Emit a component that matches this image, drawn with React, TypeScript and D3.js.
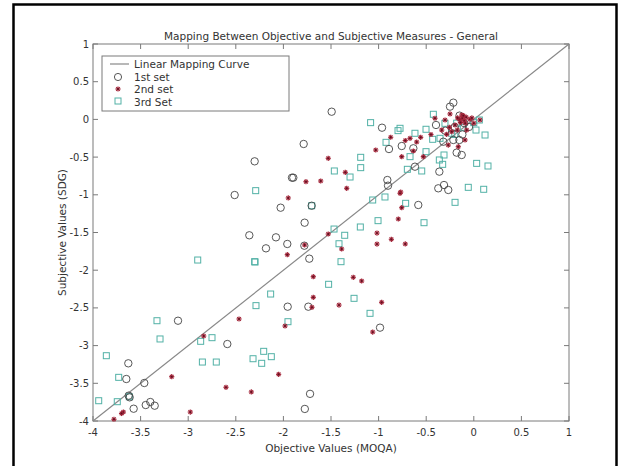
import * as d3 from "d3";

// 1st set (circles)
const set1: [number, number][] = [
  [-2.358, -1.537], [-2.078, -1.564], [-2.183, -1.71], [-1.959, -1.652], [-1.955, -2.484],
  [-3.107, -2.67], [-2.589, -2.979], [-3.629, -3.235], [-3.65, -3.443], [-3.625, -3.664],
  [-3.615, -3.686], [-3.461, -3.496], [-3.573, -3.837], [-3.446, -3.788], [-3.398, -3.748],
  [-3.352, -3.797], [-1.775, -3.84], [-1.72, -3.64], [-1.493, 0.102], [-0.964, -0.11],
  [-0.891, -0.393], [-1.787, -0.326], [-2.302, -0.556], [-2.512, -1.003], [-1.896, -0.773],
  [-1.91, -0.773], [-2.029, -1.171], [-1.703, -1.145], [-1.777, -1.37], [-1.78, -1.675],
  [-1.728, -1.847], [-0.908, -0.804], [-0.901, -0.879], [-0.373, -0.914], [-0.313, -0.87],
  [-0.268, -0.936], [-0.583, -1.135], [-1.738, -2.484], [-0.985, -2.762], [-0.215, 0.222],
  [-0.25, 0.169], [-0.397, -0.074], [-0.215, -0.273], [-0.32, -0.296], [-0.152, -0.273],
  [-0.127, -0.472], [-0.18, -0.441], [-0.362, -0.693], [-0.635, -0.383], [-0.757, -0.353],
  [-0.618, -0.627], [-0.1, -0.05], [-0.2, -0.1], [-0.15, 0.05], [-0.05, -0.1],
  [-0.3, -0.15], [-0.12, -0.2],
];

// 2nd set (asterisks)
const set2: [number, number][] = [
  [-1.959, -1.794], [-2.466, -2.647], [-2.837, -2.873], [-1.983, -2.74], [-3.173, -3.412],
  [-2.603, -3.553], [-2.337, -3.615], [-2.05, -3.381], [-2.978, -3.881], [-3.681, -3.881],
  [-3.7, -3.9], [-3.78, -3.977], [-0.873, -0.237], [-1.03, -0.406], [-1.529, -0.516],
  [-1.35, -0.702], [-1.763, -0.826], [-1.608, -0.817], [-1.335, -0.914], [-1.949, -1.042],
  [-1.529, -1.52], [-1.388, -1.719], [-1.777, -1.666], [-1.017, -1.507], [-1.017, -1.653],
  [-0.866, -1.59], [-0.793, -1.321], [-1.686, -2.086], [-1.266, -2.094], [-0.768, -0.963],
  [-0.757, -1.171], [-0.72, -1.652], [-1.178, -2.143], [-1.686, -2.36], [-1.7, -2.492],
  [-1.416, -2.462], [-0.968, -2.426], [-1.062, -2.82], [-0.775, -0.98], [-0.25, 0.072],
  [-0.302, -0.008], [-0.408, 0.015], [-0.337, -0.141], [-0.257, -0.105], [-0.268, -0.34],
  [-0.232, -0.163], [-0.075, -0.141], [-0.092, -0.273], [0.065, -0.008], [-0.67, -0.251],
  [-0.558, -0.238], [-0.53, -0.494], [-0.635, -0.419], [-0.173, -0.141], [-0.163, -0.362],
  [-0.757, -0.494], [-0.197, -0.074], [-0.285, -0.198], [-0.04, 0.001], [-0.127, 0.058],
  [-0.15, 0.0], [-0.12, 0.02], [-0.1, -0.02], [-0.14, -0.04], [-0.08, 0.03],
  [-0.11, 0.05], [-0.17, 0.02], [-0.09, -0.05], [0.0, -0.05], [-0.02, 0.02],
  [-0.6, -0.3], [-0.72, -0.28], [-0.45, -0.2],
];

// 3rd set (squares)
const set3: [number, number][] = [
  [-2.9, -1.865], [-2.298, -1.891], [-2.134, -2.316], [-2.288, -2.47], [-1.952, -2.683],
  [-3.328, -2.67], [-3.296, -2.912], [-2.869, -2.943], [-2.75, -2.895], [-2.851, -3.218],
  [-2.705, -3.218], [-2.319, -3.174], [-2.207, -3.076], [-2.127, -3.147], [-2.228, -3.235],
  [-3.86, -3.134], [-3.73, -3.421], [-3.745, -3.744], [-3.94, -3.731], [-3.619, -3.678],
  [-1.084, -0.043], [-0.922, -0.304], [-0.796, -0.149], [-1.188, -0.503], [-1.188, -0.64],
  [-1.465, -0.684], [-1.3, -0.764], [-2.291, -0.945], [-1.703, -1.145], [-1.062, -1.069],
  [-0.933, -1.029], [-1.468, -1.454], [-1.356, -1.537], [-1.192, -1.427], [-1.006, -1.343],
  [-1.416, -1.649], [-1.395, -1.887], [-2.302, -1.887], [-0.058, -0.901], [-0.197, -1.1],
  [-0.523, -1.37], [-0.716, -1.113], [-1.525, -2.187], [-1.258, -2.373], [-1.09, -2.572],
  [-0.425, 0.068], [-0.775, -0.118], [-0.618, -0.184], [-0.502, -0.131], [-0.67, -0.494],
  [-0.698, -0.662], [-0.547, -0.684], [-0.432, -0.264], [-0.362, -0.538], [-0.313, -0.472],
  [-0.327, -0.596], [0.03, -0.583], [0.149, -0.618], [0.104, -0.927], [0.0, -0.043],
  [0.058, -0.008], [0.118, -0.207], [0.023, -0.141], [-0.355, -0.251], [-0.303, -0.052],
  [-0.232, -0.184], [-0.502, -0.428], [-0.11, -0.105], [-0.18, -0.05], [-0.2, -0.2],
];

const mappingLine: [number, number][] = [[-4, -4], [1, 1]];
const xTicks = [-4, -3.5, -3, -2.5, -2, -1.5, -1, -0.5, 0, 0.5, 1];
const yTicks = [-4, -3.5, -3, -2.5, -2, -1.5, -1, -0.5, 0, 0.5, 1];
const legendLabels = ["Linear Mapping Curve", "1st set", "2nd set", "3rd Set"];

const W = 629;
const H = 466;
const m = { left: 93, right: 569, top: 44, bottom: 421 };
const font = "'DejaVu Sans', sans-serif";
const axisColor = "#7a7a7a";
const textColor = "#333";
const c1 = "#444";
const c2 = "#a3263a";
const c3 = "#52b1a6";

const x = d3.scaleLinear().domain([-4, 1]).range([m.left, m.right]);
const y = d3.scaleLinear().domain([-4, 1]).range([m.bottom, m.top]);

function Star({ cx, cy, r = 2.6 }: { cx: number; cy: number; r?: number }) {
  const d = r * 0.707;
  return (
    <g stroke={c2} strokeWidth={1.2}>
      <line x1={cx - r} y1={cy} x2={cx + r} y2={cy} />
      <line x1={cx} y1={cy - r} x2={cx} y2={cy + r} />
      <line x1={cx - d} y1={cy - d} x2={cx + d} y2={cy + d} />
      <line x1={cx - d} y1={cy + d} x2={cx + d} y2={cy - d} />
      <circle cx={cx} cy={cy} r={0.9} fill="#5a1020" stroke="none" />
    </g>
  );
}

export default function App() {
  const line = d3.line<[number, number]>().x((d) => x(d[0])).y((d) => y(d[1]));
  const tl = 5;
  const lx = 102;
  const ly = 56;
  return (
    <div style={{ position: "absolute", left: 0, top: 0 }}>
      <svg width={W} height={H} style={{ display: "block", background: "#fff" }} fontFamily={font}>
        <rect x={13.5} y={4.5} width={603} height={H + 10} fill="none" stroke="#000" strokeWidth={2.5} />
        {/* ticks, both sides like matlab's box */}
        {xTicks.map((t) => (
          <g key={"x" + t}>
            <line x1={x(t)} x2={x(t)} y1={m.bottom} y2={m.bottom - tl} stroke={axisColor} />
            <line x1={x(t)} x2={x(t)} y1={m.top} y2={m.top + tl} stroke={axisColor} />
            <text x={x(t)} y={m.bottom + 15} textAnchor="middle" fontSize={10} fill={textColor}>
              {t}
            </text>
          </g>
        ))}
        {yTicks.map((t) => (
          <g key={"y" + t}>
            <line x1={m.left} x2={m.left + tl} y1={y(t)} y2={y(t)} stroke={axisColor} />
            <line x1={m.right} x2={m.right - tl} y1={y(t)} y2={y(t)} stroke={axisColor} />
            <text x={m.left - 4} y={y(t) + 3.5} textAnchor="end" fontSize={10} fill={textColor}>
              {t}
            </text>
          </g>
        ))}
        <rect x={m.left} y={m.top} width={m.right - m.left} height={m.bottom - m.top} fill="none" stroke={axisColor} />
        <path d={line(mappingLine) ?? ""} stroke="#888" strokeWidth={1.2} fill="none" />
        {set3.map((d, i) => (
          <rect key={"s" + i} x={x(d[0]) - 3} y={y(d[1]) - 3} width={6} height={6} fill="none" stroke={c3} strokeWidth={1} />
        ))}
        {set1.map((d, i) => (
          <circle key={"c" + i} cx={x(d[0])} cy={y(d[1])} r={3.7} fill="none" stroke={c1} strokeWidth={0.9} />
        ))}
        {set2.map((d, i) => (
          <Star key={"t" + i} cx={x(d[0])} cy={y(d[1])} />
        ))}
        <text x={(m.left + m.right) / 2} y={m.top - 4} textAnchor="middle" fontSize={10.5} fill={textColor}>
          Mapping Between Objective and Subjective Measures - General
        </text>
        <text x={(m.left + m.right) / 2} y={m.bottom + 31} textAnchor="middle" fontSize={10.5} fill={textColor}>
          Objective Values (MOQA)
        </text>
        <text
          transform={`translate(${m.left - 27},${(m.top + m.bottom) / 2}) rotate(-90)`}
          textAnchor="middle"
          fontSize={10.5}
          fill={textColor}
        >
          Subjective Values (SDG)
        </text>
        {/* legend */}
        <rect x={lx} y={ly} width={187} height={55} fill="#fff" stroke={axisColor} />
        <line x1={lx + 8} x2={lx + 27} y1={ly + 8} y2={ly + 8} stroke="#888" strokeWidth={1.2} />
        <circle cx={lx + 16} cy={ly + 21} r={3.6} fill="none" stroke={c1} strokeWidth={0.9} />
        <Star cx={lx + 16} cy={ly + 33} />
        <rect x={lx + 13} y={ly + 42} width={6} height={6} fill="none" stroke={c3} />
        {legendLabels.map((l, i) => (
          <text key={l} x={lx + 32} y={ly + 12 + i * 12.7} fontSize={10.5} fill={textColor}>
            {l}
          </text>
        ))}
      </svg>
    </div>
  );
}
